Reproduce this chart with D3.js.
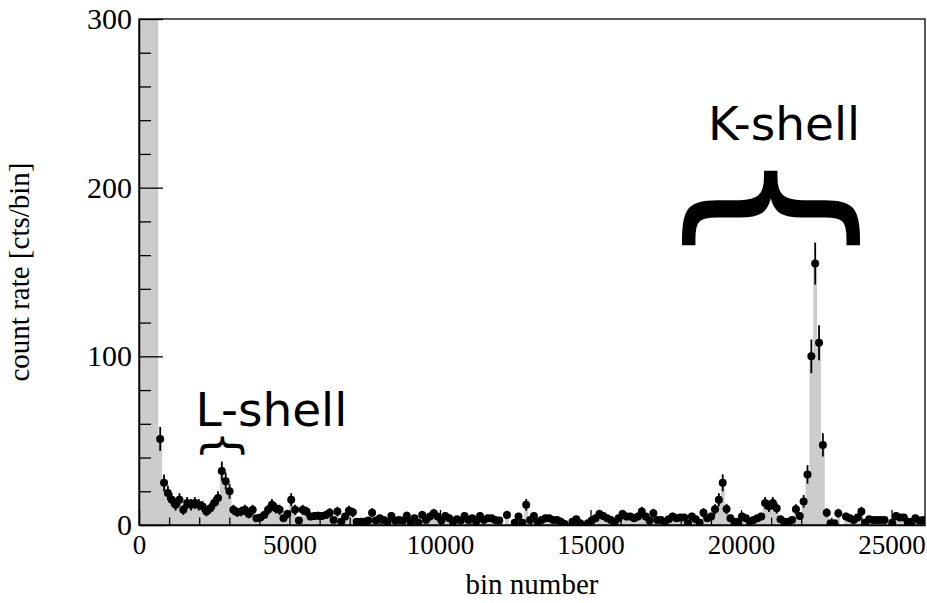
<!DOCTYPE html>
<html>
<head>
<meta charset="utf-8">
<script src="https://cdn.jsdelivr.net/npm/d3@7"></script>
<style>
  html, body { margin: 0; padding: 0; background: #fff; }
  svg { display: block; }
</style>
</head>
<body>
<svg id="chart" width="927" height="603"></svg>
<script>
// Spectrum: counts per bin, 128 channels per bin, starting at bin number 0.
// The first five bins are far above the 300 counts shown on the axis.
const BIN_WIDTH = 128;
const counts = [
  4800, 2600, 1400, 760, 390, 51, 25, 19, 15, 12,
  15, 9, 13, 12, 13, 12, 11, 8, 10, 13,
  16, 32, 26, 20, 9, 7.5, 8, 9, 6.5, 9,
  4, 4.5, 6, 9, 12, 10, 9, 4, 6.5, 15,
  9, 2.6, 9, 8, 5, 5.3, 5.5, 5.3, 6, 7.3,
  3, 8, 2, 5, 8.5, 7.5, 2, 2, 2, 2.6,
  7.3, 2.6, 4, 3, 2, 5.3, 2.6, 3, 2.6, 5.5,
  2, 4, 1.4, 6, 3, 5, 7, 5, 2.6, 5.3,
  4, 2, 3.4, 2.6, 5.3, 3, 4, 2, 5.3, 3,
  4, 4, 3, 2.6, 0, 6, 0, 1.4, 5, 1.4,
  12, 3, 5.3, 2, 3, 4, 4, 3, 3, 2,
  0.6, 0, 2, 3.4, 1, 0, 1, 2.6, 4, 6.5,
  5.3, 4, 3, 2, 4, 6.5, 5, 5, 4, 5,
  8, 5, 2.6, 7, 3, 3, 2, 3.4, 5, 4,
  4.5, 4.5, 1, 5, 3.4, 1.4, 7.3, 4, 5, 9.3,
  15, 25, 9.5, 4, 2, 2, 5, 4, 2, 3,
  4, 5, 13, 11, 13, 10, 3.4, 2, 2, 3,
  9.3, 5.3, 14, 30, 100, 155, 108, 47.5, 7.3, 1,
  1, 7, 0, 5, 4, 3, 4.5, 8, 1.4, 3.4,
  3, 3, 3, 3, 0, 1.4, 5.3, 4.5, 4.5, 2,
  2, 4, 2.6, 3
];

const xMajorTicks = [0, 5000, 10000, 15000, 20000, 25000];
const yMajorTicks = [0, 100, 200, 300];
const xTitle = "bin number";
const yTitle = "count rate [cts/bin]";

// Shell annotations: label, bin-number span of the brace, brace height (counts), label position
const shellNames = ["L-shell", "K-shell"];
const shellSpans = [[2090, 3560], [18150, 24100]];
const braceLevels = [47, 188];
const labelCentres = [4400, 21430];
const labelLevels = [58.5, 228];

const margin = { left: 139, right: 2, top: 19, bottom: 78 };
const W = 927, H = 603;

const bins = counts.map((v, i) => ({ x0: i * BIN_WIDTH, x1: (i + 1) * BIN_WIDTH, v, err: Math.sqrt(v) }));
const xMax = bins.length * BIN_WIDTH;

const x = d3.scaleLinear().domain([0, xMax]).range([margin.left, W - margin.right]);
const y = d3.scaleLinear().domain([0, 300]).range([H - margin.bottom, margin.top]);

const svg = d3.select("#chart");

svg.append("defs").append("clipPath").attr("id", "plotClip")
  .append("rect")
  .attr("x", x.range()[0]).attr("y", y.range()[1])
  .attr("width", x.range()[1] - x.range()[0])
  .attr("height", y.range()[0] - y.range()[1]);

const plot = svg.append("g").attr("clip-path", "url(#plotClip)");

// Filled histogram
const stepPts = [];
bins.forEach(b => { stepPts.push([b.x0, b.v]); stepPts.push([b.x1, b.v]); });
plot.append("path")
  .datum(stepPts)
  .attr("fill", "#cccccc")
  .attr("stroke", "none")
  .attr("d", d3.area()
    .x(d => x(d[0]))
    .y0(y(0))
    .y1(d => y(Math.min(d[1], 400))));

// Error bars and markers
const shown = bins.filter(b => b.v > 0);
const centre = b => x((b.x0 + b.x1) / 2);
plot.append("g").selectAll("line").data(shown).join("line")
  .attr("x1", centre).attr("x2", centre)
  .attr("y1", b => y(Math.max(0, b.v - b.err)))
  .attr("y2", b => y(Math.min(400, b.v + b.err)))
  .attr("stroke", "#000").attr("stroke-width", 1.8);
plot.append("g").selectAll("circle").data(shown).join("circle")
  .attr("cx", centre).attr("cy", b => y(b.v))
  .attr("r", 4).attr("fill", "#000");

// Axes (ticks drawn inward)
const fontSerif = "'Liberation Serif', 'Times New Roman', serif";
const xMinor = d3.range(0, xMax, 1000).filter(v => !xMajorTicks.includes(v));
const yMinor = d3.range(0, 301, 20).filter(v => !yMajorTicks.includes(v));

const xAxisG = svg.append("g").attr("transform", `translate(0,${y(0)})`);
xAxisG.call(d3.axisBottom(x).tickValues(xMajorTicks).tickSize(-15).tickSizeOuter(0).tickPadding(10).tickFormat(d3.format("d")));
xAxisG.append("g").call(d3.axisBottom(x).tickValues(xMinor).tickSize(-7.5).tickSizeOuter(0).tickFormat(""))
  .select(".domain").remove();

const yAxisG = svg.append("g").attr("transform", `translate(${x(0)},0)`);
yAxisG.call(d3.axisLeft(y).tickValues(yMajorTicks).tickSize(-24).tickSizeOuter(0).tickPadding(7).tickFormat(d3.format("d")));
yAxisG.append("g").call(d3.axisLeft(y).tickValues(yMinor).tickSize(-12).tickSizeOuter(0).tickFormat(""))
  .select(".domain").remove();

svg.selectAll(".tick line").attr("stroke", "#000").attr("stroke-width", 1.3);
svg.selectAll(".domain").attr("stroke", "#000").attr("stroke-width", 1.5);
yAxisG.selectAll(".tick text").attr("font-family", fontSerif).attr("font-size", 30).attr("fill", "#000");
xAxisG.selectAll(".tick text").attr("font-family", fontSerif).attr("font-size", 27).attr("fill", "#000");

// Frame
svg.append("rect")
  .attr("x", x.range()[0]).attr("y", y.range()[1])
  .attr("width", x.range()[1] - x.range()[0])
  .attr("height", y.range()[0] - y.range()[1])
  .attr("fill", "none").attr("stroke", "#000").attr("stroke-width", 1.3);

// Axis titles
svg.append("text")
  .attr("x", (x.range()[0] + x.range()[1]) / 2).attr("y", 594)
  .attr("text-anchor", "middle")
  .attr("font-family", fontSerif).attr("font-size", 29)
  .text(xTitle);
svg.append("text")
  .attr("transform", `translate(29,272) rotate(-90)`)
  .attr("text-anchor", "middle")
  .attr("font-family", fontSerif).attr("font-size", 29)
  .text(yTitle);

// Shell labels with braces
const fontSans = "'DejaVu Sans', sans-serif";
shellNames.forEach((name, i) => {
  const [a, b] = shellSpans[i];
  const spanPx = x(b) - x(a);
  const fs = spanPx / 0.93;
  const cx = (x(a) + x(b)) / 2;
  const cy = y(braceLevels[i]);
  svg.append("text")
    .attr("transform", `translate(${cx},${cy}) rotate(-90)`)
    .attr("text-anchor", "middle")
    .attr("x", 0).attr("y", 0.28 * fs)
    .attr("font-family", fontSans).attr("font-size", fs)
    .text("}");
  svg.append("text")
    .attr("x", x(labelCentres[i])).attr("y", y(labelLevels[i]))
    .attr("text-anchor", "middle")
    .attr("font-family", fontSans).attr("font-size", 47)
    .text(name);
});
</script>
</body>
</html>
